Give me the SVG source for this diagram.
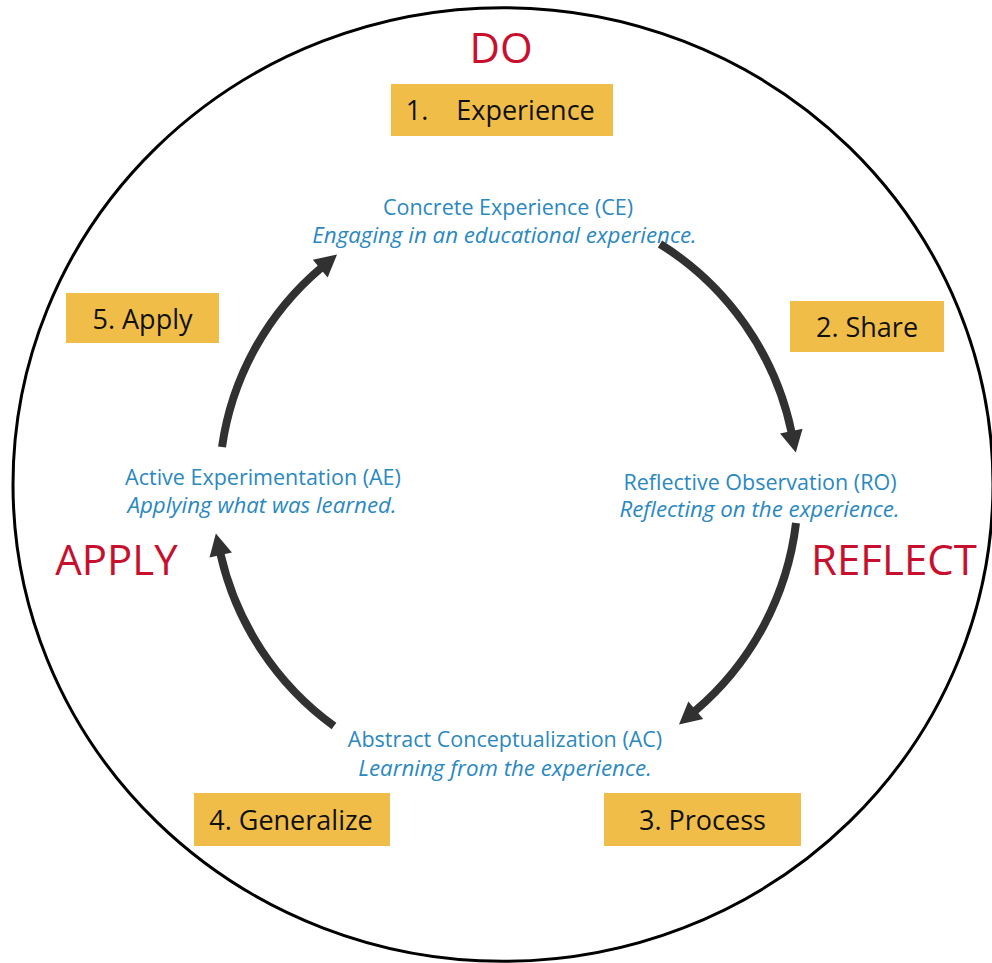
<svg xmlns="http://www.w3.org/2000/svg" width="992" height="963" viewBox="0 0 992 963">
  <style>
    .phase { font-family: "Open Sans", "Liberation Sans", sans-serif; font-size: 42px; fill: #C8102E; text-anchor: middle; }
    .box rect { fill: #F0BE48; }
    .box text { font-family: "Open Sans", "Liberation Sans", sans-serif; font-size: 27px; fill: #111111; text-anchor: middle; }
    .mode text { font-family: "Open Sans", "Liberation Sans", sans-serif; font-size: 21.5px; fill: #2B88C0; text-anchor: middle; }
    .mode .desc { font-style: italic; font-size: 22.3px; }
    .arc { fill: none; stroke: #313131; stroke-width: 8; }
  </style>
  <defs>
    <marker id="head" markerUnits="userSpaceOnUse" viewBox="0 -12 24 24" refX="1" refY="0" markerWidth="24" markerHeight="24" orient="auto" overflow="visible">
      <path d="M0,-11.5 L22,0 L0,11.5 Z" fill="#313131"/>
    </marker>
  </defs>

  <rect width="992" height="963" fill="#FFFFFF"/>

  <!-- outer ring -->
  <ellipse cx="503" cy="484.5" rx="490" ry="476.8" fill="none" stroke="#000000" stroke-width="3"/>

  <!-- phase words -->
  <g id="phase-do"><text class="phase" x="501" y="62.5">DO</text></g>
  <g id="phase-reflect"><text class="phase" x="894" y="575">REFLECT</text></g>
  <g id="phase-apply"><text class="phase" x="116.5" y="575">APPLY</text></g>

  <!-- numbered step boxes -->
  <g id="step-experience" class="box">
    <rect x="391" y="84" width="222" height="52"/>
    <text y="120"><tspan x="417">1.</tspan><tspan x="525.5">Experience</tspan></text>
  </g>
  <g id="step-share" class="box">
    <rect x="790" y="301" width="154" height="51"/>
    <text x="867" y="337">2. Share</text>
  </g>
  <g id="step-process" class="box">
    <rect x="604" y="793" width="197" height="53"/>
    <text x="702.5" y="830">3. Process</text>
  </g>
  <g id="step-generalize" class="box">
    <rect x="194" y="793" width="196" height="53"/>
    <text x="291" y="830">4. Generalize</text>
  </g>
  <g id="step-apply" class="box">
    <rect x="66" y="293" width="153" height="50"/>
    <text x="142.5" y="329">5. Apply</text>
  </g>

  <!-- learning modes -->
  <g id="mode-ce" class="mode">
    <text x="508" y="214.5">Concrete Experience (CE)</text>
    <text class="desc" x="504.5" y="242.5">Engaging in an educational experience.</text>
  </g>
  <g id="mode-ro" class="mode">
    <text x="760" y="489.5">Reflective Observation (RO)</text>
    <text class="desc" x="759.5" y="517">Reflecting on the experience.</text>
  </g>
  <g id="mode-ac" class="mode">
    <text x="505" y="747">Abstract Conceptualization (AC)</text>
    <text class="desc" x="505" y="775.5">Learning from the experience.</text>
  </g>
  <g id="mode-ae" class="mode">
    <text x="263" y="485">Active Experimentation (AE)</text>
    <text class="desc" x="262" y="513">Applying what was learned.</text>
  </g>

  <!-- cycle arrows -->
  <g id="connectors">
    <path class="arc" d="M 660,244 A 292 292 0 0 1 791.5,432" marker-end="url(#head)"/>
    <path class="arc" d="M 796,523 A 292 292 0 0 1 695,711" marker-end="url(#head)"/>
    <path class="arc" d="M 334,726 A 292 292 0 0 1 220.5,554" marker-end="url(#head)"/>
    <path class="arc" d="M 222,447 A 288 288 0 0 1 321,268" marker-end="url(#head)"/>
  </g>
</svg>
